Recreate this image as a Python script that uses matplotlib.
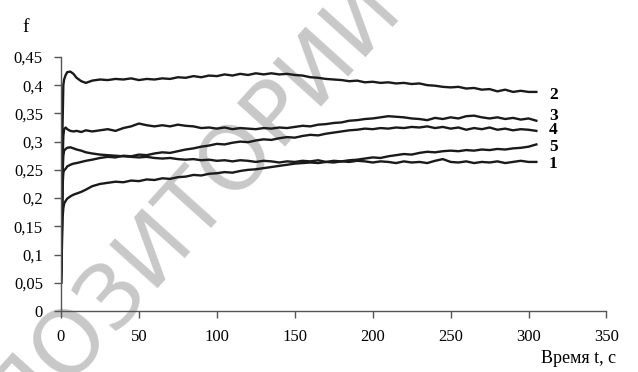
import numpy as np
import matplotlib
matplotlib.use("Agg")
import matplotlib.pyplot as plt
from matplotlib.ticker import FuncFormatter

# time points, s
t_start = [0, 0.5, 1, 1.5, 2, 3, 4, 6, 8, 10, 13, 16, 20]
t_main = list(range(25, 306, 5))
t = np.array(t_start + t_main)

# friction coefficient f, curves 1..5
f1 = [0.05, 0.10, 0.165, 0.182, 0.19, 0.195, 0.199, 0.203, 0.206, 0.208, 0.211, 0.215, 0.221,
      0.225, 0.227, 0.229, 0.228, 0.231,
      0.230, 0.233, 0.232, 0.235, 0.234,
      0.237, 0.238, 0.241, 0.240, 0.243,
      0.244, 0.246, 0.245, 0.248, 0.250,
      0.251, 0.253, 0.255, 0.257, 0.259,
      0.261, 0.262, 0.263, 0.262, 0.264,
      0.263, 0.265, 0.264, 0.266, 0.265,
      0.263, 0.265, 0.264, 0.262, 0.265,
      0.263, 0.264, 0.262, 0.266, 0.269,
      0.264, 0.263, 0.265, 0.262, 0.264,
      0.263, 0.265, 0.262, 0.264, 0.266,
      0.264, 0.264]
f2 = [0.05, 0.15, 0.33, 0.40, 0.41, 0.418, 0.423, 0.424, 0.420, 0.413, 0.407, 0.404, 0.408,
      0.410, 0.409, 0.411, 0.410, 0.412,
      0.409, 0.411, 0.410, 0.412, 0.411,
      0.414, 0.413, 0.416, 0.414, 0.417,
      0.416, 0.419, 0.417, 0.420, 0.418,
      0.421, 0.419, 0.421, 0.419, 0.420,
      0.418, 0.417, 0.414, 0.413, 0.411,
      0.410, 0.409, 0.407, 0.408, 0.405,
      0.406, 0.404, 0.405, 0.403, 0.404,
      0.402, 0.403, 0.400, 0.399, 0.397,
      0.396, 0.397, 0.394, 0.395, 0.392,
      0.393, 0.389, 0.392, 0.388, 0.390,
      0.388, 0.388]
f3 = [0.05, 0.13, 0.26, 0.31, 0.322, 0.325, 0.322, 0.319, 0.318, 0.319, 0.317, 0.320, 0.318,
      0.320, 0.322, 0.319, 0.324, 0.327,
      0.332, 0.329, 0.327, 0.329, 0.327,
      0.330, 0.328, 0.327, 0.324, 0.325,
      0.323, 0.325, 0.322, 0.324, 0.323,
      0.322, 0.324, 0.323, 0.325, 0.324,
      0.326, 0.328, 0.327, 0.330, 0.331,
      0.333, 0.334, 0.337, 0.338, 0.340,
      0.341, 0.343, 0.345, 0.344, 0.343,
      0.341, 0.340, 0.338, 0.342, 0.340,
      0.343, 0.341, 0.345, 0.346, 0.343,
      0.341, 0.343, 0.340, 0.342, 0.339,
      0.341, 0.337]
f4 = [0.05, 0.12, 0.22, 0.245, 0.249, 0.252, 0.256, 0.259, 0.261, 0.262, 0.264, 0.266, 0.268,
      0.271, 0.273, 0.272, 0.275, 0.274,
      0.277, 0.276, 0.279, 0.281, 0.280,
      0.283, 0.286, 0.288, 0.291, 0.293,
      0.296, 0.295, 0.298, 0.300, 0.299,
      0.302, 0.304, 0.303, 0.306, 0.308,
      0.307, 0.310, 0.312, 0.311, 0.314,
      0.316, 0.318, 0.320, 0.321, 0.323,
      0.322, 0.324, 0.323, 0.325, 0.324,
      0.326, 0.325, 0.327, 0.324, 0.326,
      0.323, 0.325, 0.321, 0.324, 0.322,
      0.325, 0.321, 0.323, 0.320, 0.322,
      0.321, 0.319]
f5 = [0.05, 0.14, 0.24, 0.275, 0.284, 0.287, 0.289, 0.290, 0.288, 0.286, 0.284, 0.281, 0.279,
      0.277, 0.276, 0.275, 0.274, 0.273,
      0.272, 0.273, 0.271, 0.270, 0.271,
      0.269, 0.268, 0.269, 0.267, 0.268,
      0.266, 0.267, 0.265, 0.267, 0.266,
      0.264, 0.266, 0.265, 0.263, 0.265,
      0.264, 0.266, 0.265, 0.267, 0.264,
      0.266, 0.265, 0.267, 0.268, 0.270,
      0.272, 0.271, 0.274, 0.276, 0.278,
      0.277, 0.280, 0.282, 0.281, 0.283,
      0.284, 0.283, 0.285, 0.284, 0.286,
      0.285, 0.287, 0.286, 0.288, 0.289,
      0.291, 0.295]

curves = [("1", f1, 0.261), ("2", f2, 0.383), ("3", f3, 0.346), ("4", f4, 0.320), ("5", f5, 0.290)]

x_ticks = [0, 50, 100, 150, 200, 250, 300, 350]
y_ticks = [0, 0.05, 0.1, 0.15, 0.2, 0.25, 0.3, 0.35, 0.4, 0.45]

plt.rcParams['font.family'] = ['Liberation Serif', 'DejaVu Serif']

fig = plt.figure(figsize=(6.38, 3.72), dpi=100)
ax = fig.add_axes([0.0956, 0.164, 0.855, 0.683])
ax.set_facecolor('none')

for name, vals, ylab in curves:
    ax.plot(t, vals, color='#1a1a1a', lw=1.7)
    ax.text(313, ylab, name, fontsize=12.5, fontweight='bold', va='center', ha='left')

ax.set_xlim(0, 350)
ax.set_ylim(0, 0.45)
ax.set_xticks(x_ticks)
ax.set_yticks(y_ticks)
ax.yaxis.set_major_formatter(FuncFormatter(lambda v, p: ('%g' % round(v, 2)).replace('.', ',')))
for s in ['top', 'right']:
    ax.spines[s].set_visible(False)
for s in ['left', 'bottom']:
    ax.spines[s].set_color('#555555')
    ax.spines[s].set_linewidth(1.0)
ax.tick_params(axis='both', direction='out', length=5, width=1, color='#555555',
               labelsize=12, pad=8)

fig.text(0.035, 0.925, 'f', fontsize=14, ha='left', va='center')
fig.text(0.965, 0.035, 'Время t, с', fontsize=13, ha='right', va='center')

# repository watermark, light grey behind the plot
fig.text(0.245, 0.345, 'РЕПОЗИТОРИЙ', fontsize=64, family='DejaVu Sans', rotation=48,
         ha='center', va='center', color='#c8c8c8', zorder=-1)

fig.savefig('out.png', dpi=100)
